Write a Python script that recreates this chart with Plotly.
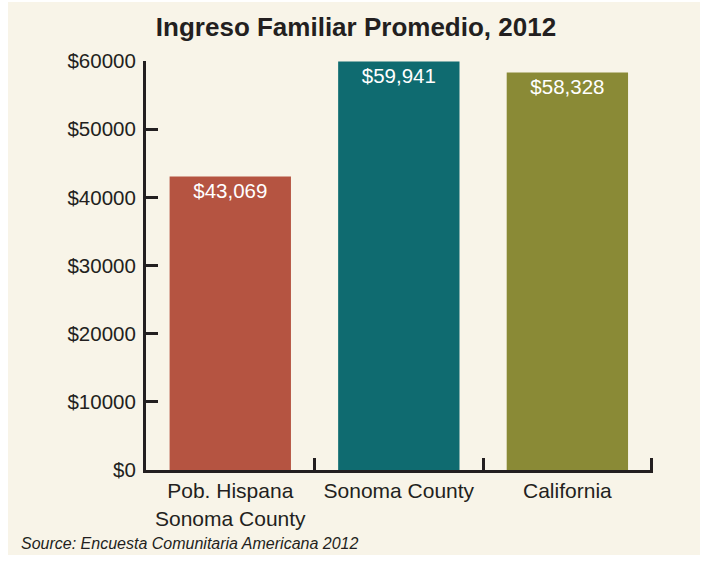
import plotly.graph_objects as go

categories = ["Pob. Hispana<br>Sonoma County", "Sonoma County", "California"]
values = [43069, 59941, 58328]
bar_labels = ["$43,069", "$59,941", "$58,328"]
colors = ["#b55441", "#0f6b70", "#8a8a36"]
y_ticks = [0, 10000, 20000, 30000, 40000, 50000, 60000]
y_tick_labels = ["$" + str(v) for v in y_ticks]

W, H = 702, 561
L, R, T, B = 146, 49, 61, 91
pw, ph = W - L - R, H - T - B

def px_x(p):
    return (p - L) / pw

def px_y(p):
    return 1 - (p - T) / ph

BG = "#f8f4e8"
AX = "#231f20"
FONT = "Liberation Sans, Arial, sans-serif"

fig = go.Figure(
    go.Bar(
        x=categories,
        y=values,
        marker=dict(color=colors, line=dict(width=0)),
        text=bar_labels,
        textposition="inside",
        insidetextanchor="end",
        textangle=0,
        textfont=dict(color="white", size=20.5, family=FONT),
        width=0.72,
        hoverinfo="skip",
    )
)

fig.update_layout(
    width=W,
    height=H,
    margin=dict(l=L, r=R, t=T, b=B),
    paper_bgcolor="white",
    plot_bgcolor="rgba(0,0,0,0)",
    font=dict(family=FONT, color=AX, size=20),
    title=dict(
        text="<b>Ingreso Familiar Promedio, 2012</b>",
        x=px_x(356), xanchor="center", xref="paper",
        y=1 - 27 / H, yanchor="middle",
        font=dict(size=26, color=AX, family=FONT),
    ),
    showlegend=False,
    shapes=[
        dict(
            type="rect", xref="paper", yref="paper", layer="below",
            x0=px_x(8), x1=px_x(700), y0=px_y(555), y1=px_y(2),
            fillcolor=BG, line=dict(width=0),
        )
    ],
    annotations=[
        dict(
            text="<i>Source: Encuesta Comunitaria Americana 2012</i>",
            xref="paper", yref="paper",
            x=px_x(19), y=px_y(543), xanchor="left", yanchor="middle",
            showarrow=False, font=dict(size=16, color=AX, family=FONT),
        )
    ],
)

fig.update_xaxes(
    showline=True, linecolor=AX, linewidth=3,
    ticks="inside", tickson="boundaries", ticklen=12, tickwidth=3, tickcolor=AX,
    showgrid=False, tickfont=dict(size=21, color=AX),
    range=[-0.5, 2.508], fixedrange=True,
)
fig.update_yaxes(
    range=[0, 60000], showline=True, linecolor=AX, linewidth=3,
    ticks="inside", ticklen=12, tickwidth=3, tickcolor=AX,
    tickvals=y_ticks, ticktext=y_tick_labels, ticklabelstandoff=3,
    showgrid=False, zeroline=False, tickfont=dict(size=20.5, color=AX),
    fixedrange=True,
)

fig.write_html(
    "out.html",
    config={"displayModeBar": False},
    post_script="document.body.style.margin='0';",
)
